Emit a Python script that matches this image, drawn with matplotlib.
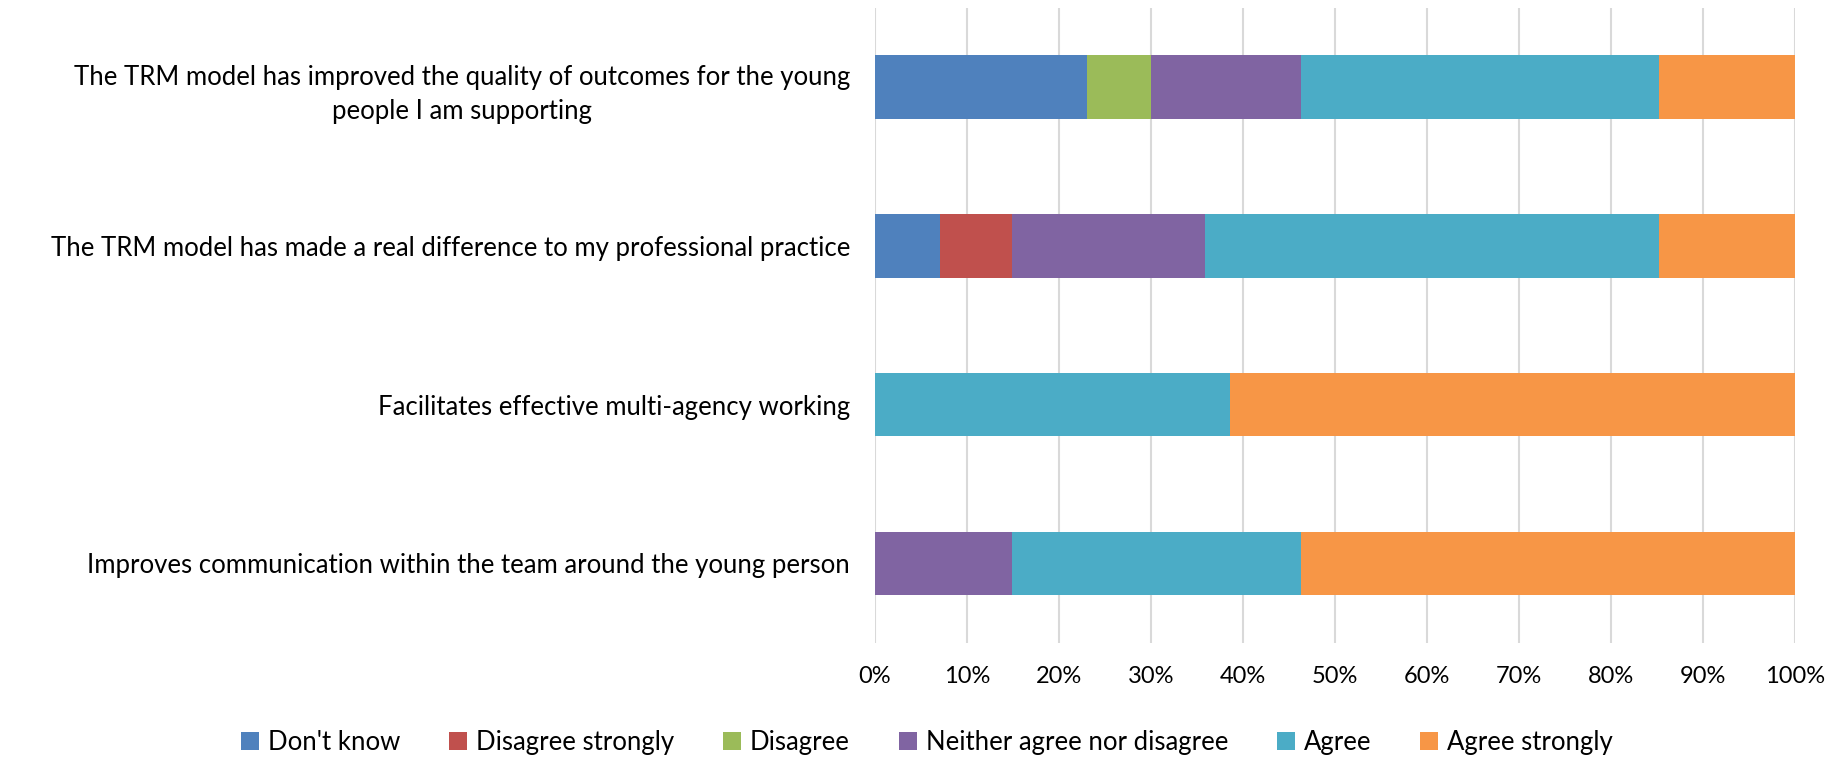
import matplotlib
matplotlib.use('Agg')

import numpy as np
import matplotlib.pyplot as plt
from matplotlib.ticker import PercentFormatter

statements = [
    "The TRM model has improved the quality of outcomes for the young\npeople I am supporting",
    "The TRM model has made a real difference to my professional practice",
    "Facilitates effective multi-agency working",
    "Improves communication within the team around the young person",
]
responses = ["Don't know", "Disagree strongly", "Disagree",
             "Neither agree nor disagree", "Agree", "Agree strongly"]
colors = ["#4F81BD", "#C0504D", "#9BBB59", "#8064A2", "#4BACC6", "#F79646"]

# percent of respondents, one list per response, in statement order
dont_know = [23.1, 7.1, 0, 0]
disagree_strongly = [0, 7.8, 0, 0]
disagree = [6.9, 0, 0, 0]
neither = [16.3, 21.0, 0, 14.9]
agree = [38.9, 49.3, 38.6, 31.4]
agree_strongly = [14.8, 14.8, 61.4, 53.7]
series = [dont_know, disagree_strongly, disagree, neither, agree, agree_strongly]

plt.rcParams['font.family'] = ['Lato', 'DejaVu Sans']

fig = plt.figure(figsize=(18.32, 7.59), dpi=100)
ax = fig.add_axes([0.4776, 0.153, 0.502, 0.837])

y = np.arange(len(statements))
left = np.zeros(len(statements))
for name, vals, c in zip(responses, series, colors):
    vals = np.array(vals, dtype=float)
    ax.barh(y, vals, left=left, height=0.4, color=c, label=name, zorder=3)
    left += vals

ax.set_ylim(len(statements) - 0.5, -0.5)
ax.set_xlim(0, 100)
ax.set_xticks(np.arange(0, 101, 10))
ax.xaxis.set_major_formatter(PercentFormatter(decimals=0))
ax.set_yticks(y)
ax.set_yticklabels(statements, multialignment='center', linespacing=1.45,
                   fontsize=18.5)
ax.tick_params(axis='both', length=0)
ax.tick_params(axis='x', labelsize=17, pad=17)
ax.tick_params(axis='y', pad=18)
ax.grid(axis='x', color='#d9d9d9', linewidth=1.5, zorder=0)
for s in ax.spines.values():
    s.set_visible(False)

fig.legend(loc='lower center', ncol=6, frameon=False, fontsize=18.5,
           handlelength=0.7, handleheight=0.7, handletextpad=0.35,
           columnspacing=1.9, bbox_to_anchor=(0.506, -0.025))

fig.savefig('out.png', dpi=100)
